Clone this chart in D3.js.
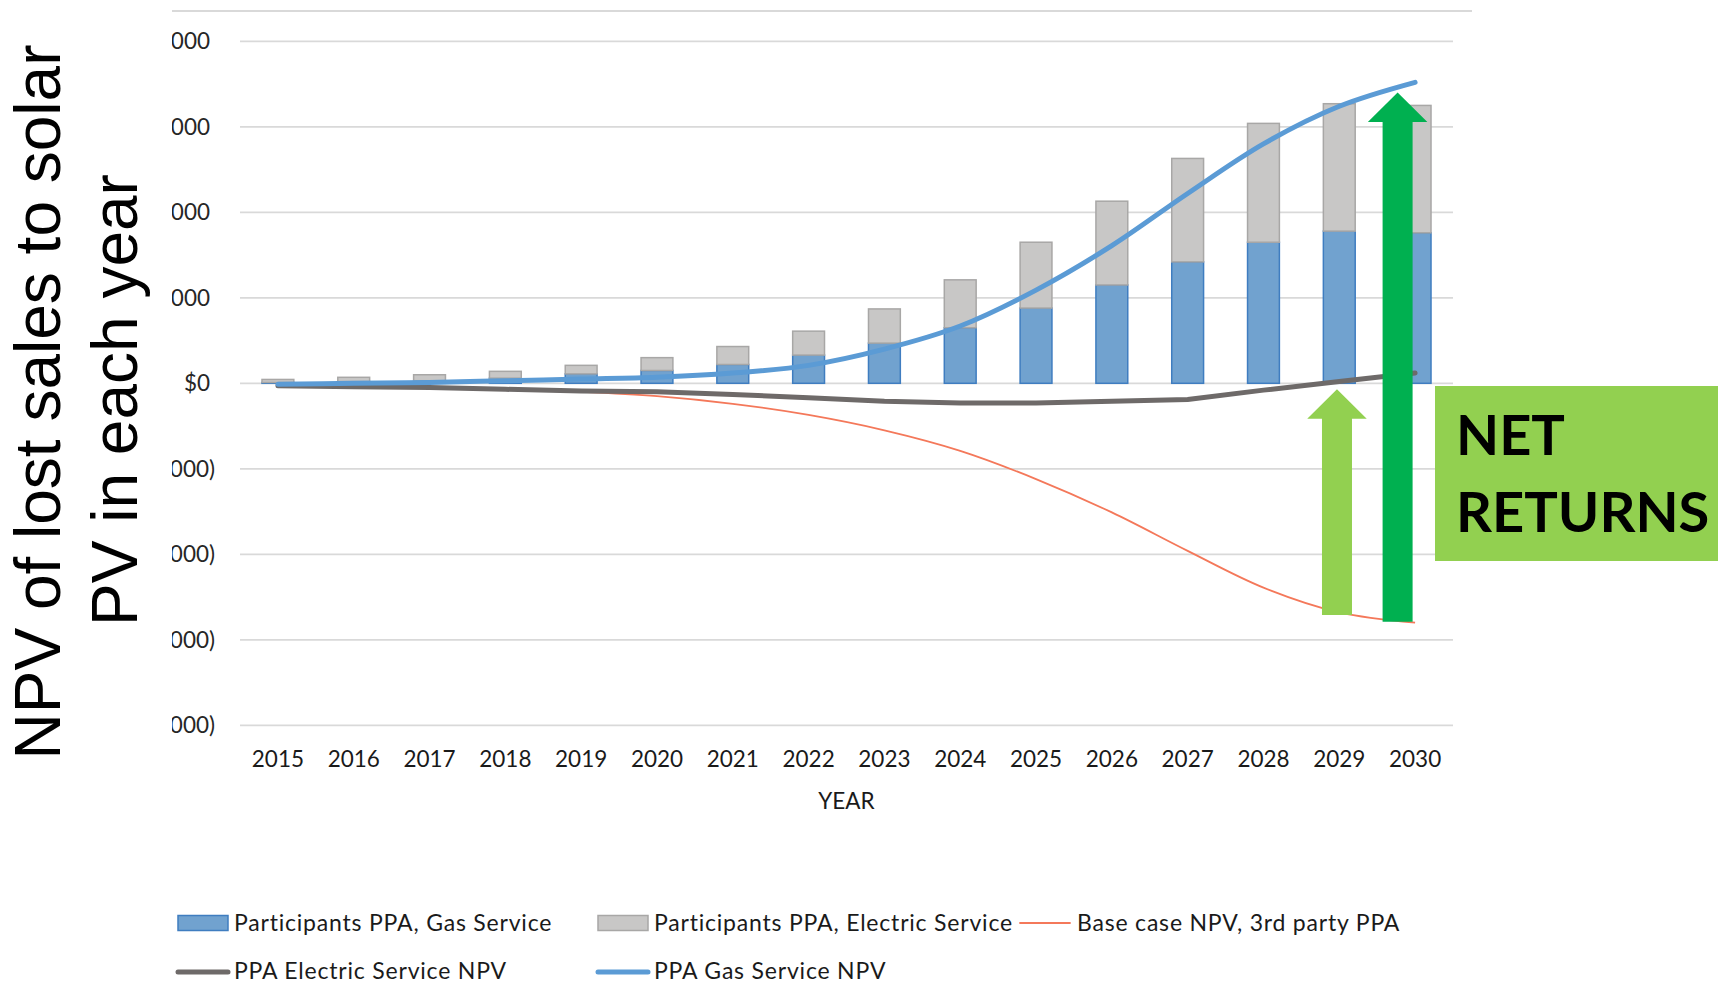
<!DOCTYPE html>
<html><head><meta charset="utf-8">
<script src="https://cdn.jsdelivr.net/npm/d3@7"></script>
<style>html,body{margin:0;padding:0;background:#fff;overflow:hidden}</style>
</head><body>
<svg id="c" width="1718" height="1003"></svg>
<script>
// ---- data (units: $ millions) ----
const years = ["2015","2016","2017","2018","2019","2020","2021","2022","2023","2024","2025","2026","2027","2028","2029","2030"];
const gasService      = [0.01,0.02,0.03,0.06,0.11,0.15,0.22,0.33,0.47,0.65,0.88,1.15,1.42,1.65,1.78,1.76];
const electricService = [0.035,0.05,0.07,0.08,0.10,0.15,0.21,0.28,0.40,0.56,0.77,0.98,1.21,1.39,1.49,1.49];
const baseCaseNPV     = [-0.03,-0.04,-0.05,-0.07,-0.10,-0.15,-0.24,-0.37,-0.55,-0.79,-1.12,-1.51,-1.96,-2.39,-2.68,-2.80];
const electricNPV     = [-0.03,-0.04,-0.05,-0.07,-0.09,-0.10,-0.13,-0.17,-0.21,-0.23,-0.23,-0.21,-0.19,-0.08,0.02,0.12];
const gasNPV          = [-0.01,0.00,0.01,0.03,0.05,0.07,0.12,0.21,0.40,0.67,1.09,1.61,2.22,2.80,3.24,3.52];
const yTicks = [-4,-3,-2,-1,0,1,2,3,4];
const seriesNames = ["Participants PPA, Gas Service","Participants PPA, Electric Service","Base case NPV, 3rd party PPA","PPA Electric Service NPV","PPA Gas Service NPV"];
const arrowYears = ["2029","2030"];
const arrowFrom  = [-2.71,-2.79];
const arrowTo    = [-0.07,3.40];
const titleLines = ["NPV of lost sales to solar","PV in each year"];
const xTitle = "YEAR";
const calloutLines = ["NET","RETURNS"];

// ---- layout ----
const svg = d3.select("#c");
svg.append("rect").attr("width",1718).attr("height",1003).attr("fill","#fff");
const left = 240, right = 1453;
const x = d3.scaleBand().domain(years).range([left,right]).paddingInner(0.58).paddingOuter(0.29);
const y = d3.scaleLinear().domain([-4,4]).range([725.3,41.3]);
const cx = d => x(d) + x.bandwidth()/2;
const FONT = "Lato, 'Open Sans', sans-serif";

// top border line
svg.append("line").attr("x1",172).attr("x2",1472).attr("y1",11).attr("y2",11)
  .attr("stroke","#d9d9d9").attr("stroke-width",2);

// gridlines
svg.append("g").selectAll("line").data(yTicks).join("line")
  .attr("x1",left).attr("x2",right).attr("y1",d=>y(d)).attr("y2",d=>y(d))
  .attr("stroke","#d9d9d9").attr("stroke-width",1.8);

// y tick labels (clipped on the left like the reference)
svg.append("defs").append("clipPath").attr("id","yclip")
  .append("rect").attr("x",172).attr("y",0).attr("width",200).attr("height",1003);
const money = d3.format(",");
const fmt = v => v === 0 ? "$0" : (v > 0 ? "$" + money(v*1e6) : "($" + money(-v*1e6) + ")");
const yAxis = svg.append("g").attr("clip-path","url(#yclip)")
  .append("g").attr("transform","translate(215,0)")
  .call(d3.axisLeft(y).tickValues(yTicks).tickSize(0).tickPadding(0).tickFormat(fmt));
yAxis.select(".domain").remove();
yAxis.selectAll("text").attr("font-family",FONT).attr("font-size",22.5).attr("fill","#262626")
  .attr("dx", d => d < 0 ? 0 : -5);

// x axis labels
const xAxis = svg.append("g").attr("transform","translate(0,751)")
  .call(d3.axisBottom(x).tickSize(0).tickPadding(0));
xAxis.select(".domain").remove();
xAxis.selectAll("text").attr("font-family",FONT).attr("font-size",22.5).attr("fill","#1a1a1a").attr("dy","0.71em");
svg.append("text").attr("x",(left+right)/2).attr("y",809).attr("text-anchor","middle")
  .attr("font-family",FONT).attr("font-size",22.5).attr("fill","#1a1a1a").text(xTitle);

// stacked bars
const rows = years.map((yr,i)=>({year:yr, gas:gasService[i], electric:electricService[i]}));
const stack = d3.stack().keys(["gas","electric"])(rows);
const fills = {gas:"#71a2cf", electric:"#c8c7c6"};
const strokes = {gas:"#3f7dc0", electric:"#a8a7a6"};
svg.append("g").selectAll("g").data(stack).join("g")
  .attr("fill",s=>fills[s.key]).attr("stroke",s=>strokes[s.key]).attr("stroke-width",1.5)
  .selectAll("rect").data(s=>s).join("rect")
  .attr("x",d=>x(d.data.year)).attr("width",x.bandwidth())
  .attr("y",d=>y(d[1])).attr("height",d=>y(d[0])-y(d[1]));

// lines
const lineSmooth = d3.line().x((d,i)=>cx(years[i])).y(d=>y(d)).curve(d3.curveCatmullRom.alpha(0.5));
const lineStraight = d3.line().x((d,i)=>cx(years[i])).y(d=>y(d));
svg.append("path").datum(baseCaseNPV).attr("d",lineSmooth).attr("fill","none")
  .attr("stroke","#f4785a").attr("stroke-width",1.8);
svg.append("path").datum(electricNPV).attr("d",lineStraight).attr("fill","none")
  .attr("stroke","#6e6a69").attr("stroke-width",5).attr("stroke-linecap","round").attr("stroke-linejoin","round");
svg.append("path").datum(gasNPV).attr("d",lineSmooth).attr("fill","none")
  .attr("stroke","#5b9bd5").attr("stroke-width",5).attr("stroke-linecap","round").attr("stroke-linejoin","round");

// arrows
function arrowPath(c, yb, yt, sw, hw, hh){
  return `M${c-sw/2},${yb}L${c-sw/2},${yt+hh}L${c-hw/2},${yt+hh}L${c},${yt}L${c+hw/2},${yt+hh}L${c+sw/2},${yt+hh}L${c+sw/2},${yb}Z`;
}
const arrowOffset = [-2.3, -17.5];
const arrowColor = ["#92d050","#00b050"];
svg.append("g").selectAll("path").data(arrowYears).join("path")
  .attr("d",(d,i)=>arrowPath(cx(d)+arrowOffset[i], y(arrowFrom[i]), y(arrowTo[i]), 30, 59.5, 29.5))
  .attr("fill",(d,i)=>arrowColor[i]);

// callout box
svg.append("rect").attr("x",1435).attr("y",386).attr("width",283).attr("height",175).attr("fill","#92d050");
svg.append("g").selectAll("text").data(calloutLines).join("text")
  .attr("x",1456).attr("y",(d,i)=>455+i*76.5)
  .attr("font-family",FONT).attr("font-weight",700).attr("font-size",56).attr("fill","#000").text(d=>d);

// y axis title
svg.append("g").selectAll("text").data(titleLines).join("text")
  .attr("transform",(d,i)=>`translate(${i===0?60:137},${i===0?402:400}) rotate(-90)`)
  .attr("text-anchor","middle").attr("font-family","'Liberation Sans', Arial, sans-serif")
  .attr("font-size",64).attr("fill","#000").text(d=>d);

// legend
const legend = [
  {name:seriesNames[0], type:"rect", fill:fills.gas, stroke:strokes.gas, sx:178, tx:234, row:0},
  {name:seriesNames[1], type:"rect", fill:fills.electric, stroke:strokes.electric, sx:598, tx:654, row:0},
  {name:seriesNames[2], type:"line", stroke:"#f4785a", w:1.8, sx:1020, tx:1077, row:0},
  {name:seriesNames[3], type:"line", stroke:"#6e6a69", w:5, sx:178, tx:234, row:1},
  {name:seriesNames[4], type:"line", stroke:"#5b9bd5", w:5, sx:598, tx:654, row:1}
];
const rowY = [923, 971];
const lg = svg.append("g").selectAll("g").data(legend).join("g");
lg.filter(d=>d.type==="rect").append("rect")
  .attr("x",d=>d.sx).attr("y",d=>rowY[d.row]-7.5).attr("width",50).attr("height",15)
  .attr("fill",d=>d.fill).attr("stroke",d=>d.stroke).attr("stroke-width",1.5);
lg.filter(d=>d.type==="line").append("line")
  .attr("x1",d=>d.sx).attr("x2",d=>d.sx+50).attr("y1",d=>rowY[d.row]+(d.row?1:0)).attr("y2",d=>rowY[d.row]+(d.row?1:0))
  .attr("stroke",d=>d.stroke).attr("stroke-width",d=>d.w).attr("stroke-linecap","round");
lg.append("text").attr("x",d=>d.tx).attr("y",d=>rowY[d.row]).attr("dy","0.36em")
  .attr("font-family",FONT).attr("font-size",23).attr("letter-spacing",0.8).attr("fill","#1a1a1a").text(d=>d.name);
</script>
</body></html>
